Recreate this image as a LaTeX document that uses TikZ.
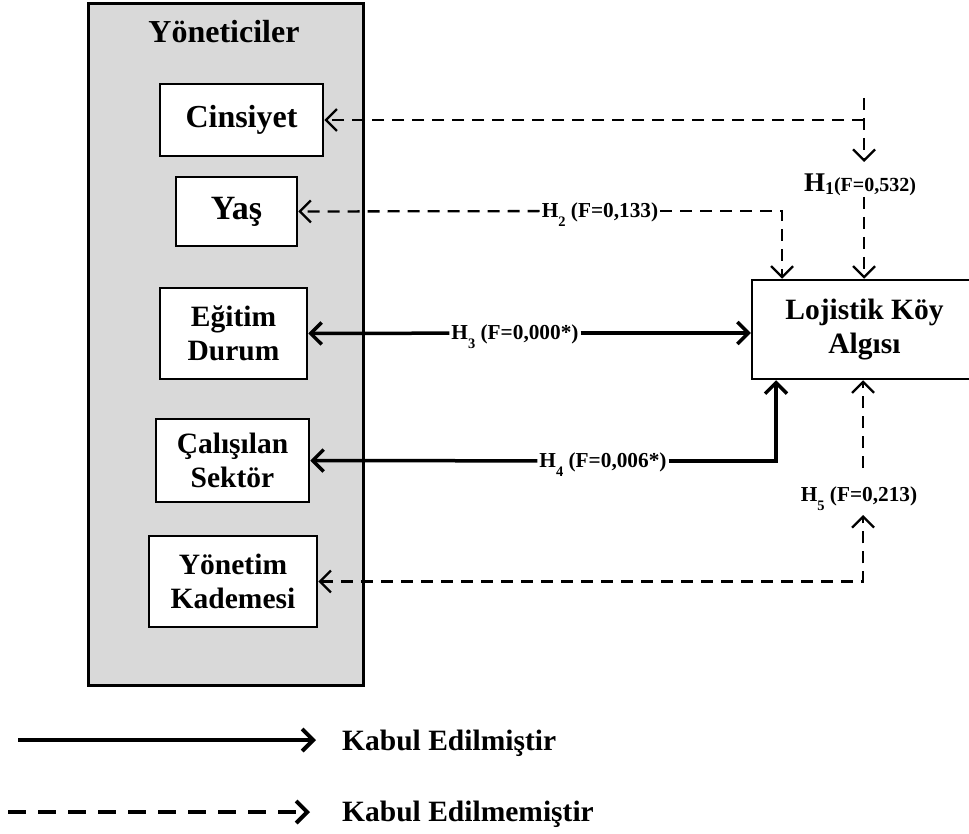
\documentclass[tikz,border=0pt]{standalone}
\usepackage{fontspec}
\setmainfont{Liberation Serif}
\usetikzlibrary{arrows.meta}
\definecolor{panelgray}{HTML}{D9D9D9}
\newcommand{\hsb}[1]{\raisebox{-0.42em}{\fontsize{14.5}{14.5}\selectfont #1}}
\tikzset{
  box/.style={draw, line width=2.5pt, fill=white, align=center,
    font=\bfseries\fontsize{29.5}{34}\selectfont, inner sep=0pt},
  lab/.style={font=\bfseries\fontsize{21.3}{22}\selectfont, inner sep=2pt,
    text height=15pt, text depth=2pt},
  tipbarb/.style={-{Straight Barb[length=11pt,width=22pt]}},
  dsh/.style={line width=2.3pt, dash pattern=on 12pt off 8pt, tipbarb},
  sol/.style={line width=3.5pt, tipbarb},
  legtxt/.style={font=\bfseries\fontsize{29.5}{34}\selectfont, anchor=west, inner sep=0pt}
}
\begin{document}
\begin{tikzpicture}[x=1pt,y=-1pt]
\useasboundingbox (0,0) rectangle (969,834);
% panel
\node[draw, line width=3pt, fill=panelgray, minimum width=275pt, minimum height=681pt, inner sep=0pt] (panel) at (225.5,344.5) {};
\node[font=\bfseries\fontsize{32}{36}\selectfont] (title) at (224,32) {Yöneticiler};
% boxes
\node[box, font=\bfseries\fontsize{32}{36}\selectfont, minimum width=163pt, minimum height=72pt] (cins) at (241.5,120) {Cinsiyet};
\node[box, font=\bfseries\fontsize{34}{38}\selectfont, minimum width=121pt, minimum height=69pt] (yas) at (236.5,211.5) {Yaş};
\node[box, minimum width=147pt, minimum height=91pt] (egit) at (233.5,333.5) {Eğitim\\Durum};
\node[box, minimum width=153pt, minimum height=83pt] (cal) at (232.5,460.5) {Çalışılan\\Sektör};
\node[box, minimum width=168pt, minimum height=91pt] (ynt) at (233,581.5) {Yönetim\\Kademesi};
\node[box, minimum width=225pt, minimum height=99pt] (loj) at (864.5,329.5) {Lojistik Köy\\Algısı};
% labels
\node[lab] (h1lab) at (860,185) {{\fontsize{27}{28}\selectfont H}{\fontsize{18}{18}\selectfont\raisebox{-0.15em}{1}}{\fontsize{20}{21}\selectfont(F=0,532)}};
\node[lab] (h2lab) at (600,211) {H\hsb{2} (F=0,133)};
\node[lab] (h3lab) at (515,333) {H\hsb{3} (F=0,000*)};
\node[lab] (h4lab) at (603,461) {H\hsb{4} (F=0,006*)};
\node[lab] (h5lab) at (859,495) {H\hsb{5} (F=0,213)};
% coordinates
\coordinate (h1top) at (864,98);
\coordinate (h1tip) at (864,162);
\coordinate (h1j) at (864,120);
\coordinate (h1low) at (864,197);
\coordinate (h2x) at (782,0);
\coordinate (h4x) at (776,0);
\coordinate (h5up) at (863,468);
\coordinate (h5tip) at (863,515);
\coordinate (h5x) at (863,0);
% H1
\draw[dsh] (h1top) -- (h1tip);
\draw[dsh] (h1j) -- (cins.east);
\draw[dsh] (h1low) -- (h1low |- loj.north);
% H2
\draw[dsh] (h2lab) -- (yas.east);
\draw[dsh] (h2lab) -| (h2x |- loj.north);
% H3
\draw[sol] (h3lab) -- (egit.east);
\draw[sol] (h3lab) -- (h3lab -| loj.west);
% H4
\draw[sol] (h4lab) -- (cal.east);
\draw[sol] (h4lab) -| (h4x |- loj.south);
% H5
\draw[dsh, {Straight Barb[length=11pt,width=22pt]}-{Straight Barb[length=11pt,width=22pt]}] (ynt.east) -| (h5tip);
\draw[dsh] (h5up) -- (h5up |- loj.south);
% legend
\node[legtxt] (leg1) at (342,743) {Kabul Edilmiştir};
\node[legtxt] (leg2) at (342,814) {Kabul Edilmemiştir};
\coordinate (l1a) at (18,740);
\coordinate (l1b) at (316,740);
\coordinate (l2a) at (8,812);
\coordinate (l2b) at (310,812);
\draw[line width=4pt, tipbarb] (l1a) -- (l1b);
\draw[line width=4pt, dash pattern=on 18pt off 12pt, tipbarb] (l2a) -- (l2b);
\end{tikzpicture}
\end{document}
